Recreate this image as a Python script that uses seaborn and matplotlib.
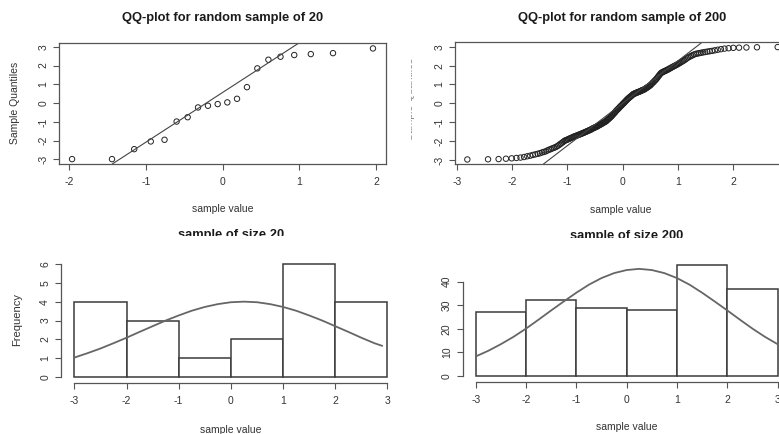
import numpy as np
import pandas as pd
import seaborn as sns
import matplotlib.pyplot as plt
from matplotlib.transforms import Bbox, TransformedBbox
from statistics import NormalDist

# sorted sample values
sample_20 = [-2.98, -2.98, -2.45, -2.04, -1.95, -0.98, -0.75, -0.23, -0.14, -0.05,
             0.04, 0.23, 0.85, 1.85, 2.31, 2.47, 2.56, 2.61, 2.66, 2.91]

sample_200 = [
    -2.97, -2.96, -2.95, -2.93, -2.91, -2.89, -2.87, -2.84, -2.80, -2.77,
    -2.73, -2.70, -2.67, -2.64, -2.60, -2.57, -2.54, -2.49, -2.45, -2.42,
    -2.38, -2.35, -2.32, -2.28, -2.23, -2.18, -2.13, -2.08, -2.03, -1.98,
    -1.95, -1.93, -1.90, -1.87, -1.85, -1.82, -1.80, -1.77, -1.75, -1.73,
    -1.71, -1.69, -1.67, -1.65, -1.63, -1.61, -1.59, -1.57, -1.55, -1.53,
    -1.51, -1.49, -1.47, -1.45, -1.43, -1.41, -1.39, -1.37, -1.34, -1.32,
    -1.30, -1.28, -1.26, -1.24, -1.22, -1.20, -1.17, -1.15, -1.13, -1.11,
    -1.08, -1.06, -1.04, -1.01, -0.99, -0.97, -0.95, -0.91, -0.88, -0.84,
    -0.81, -0.77, -0.74, -0.70, -0.67, -0.62, -0.58, -0.54, -0.50, -0.46,
    -0.41, -0.37, -0.33, -0.30, -0.26, -0.22, -0.18, -0.14, -0.11, -0.07,
    -0.03, 0.01, 0.04, 0.08, 0.12, 0.16, 0.20, 0.23, 0.27, 0.30,
    0.33, 0.36, 0.39, 0.42, 0.46, 0.49, 0.51, 0.52, 0.54, 0.56,
    0.57, 0.59, 0.60, 0.62, 0.63, 0.65, 0.67, 0.69, 0.70, 0.72,
    0.74, 0.76, 0.79, 0.82, 0.84, 0.87, 0.90, 0.93, 0.96, 1.00,
    1.05, 1.09, 1.13, 1.18, 1.22, 1.27, 1.32, 1.38, 1.44, 1.50,
    1.56, 1.61, 1.64, 1.66, 1.69, 1.71, 1.73, 1.76, 1.78, 1.81,
    1.84, 1.87, 1.90, 1.93, 1.96, 1.99, 2.02, 2.05, 2.09, 2.12,
    2.16, 2.20, 2.24, 2.28, 2.33, 2.38, 2.43, 2.47, 2.51, 2.55,
    2.59, 2.62, 2.64, 2.66, 2.68, 2.70, 2.72, 2.74, 2.76, 2.78,
    2.81, 2.84, 2.87, 2.90, 2.92, 2.94, 2.95, 2.96, 2.97, 2.98]

# histograms
bin_edges = [-3, -2, -1, 0, 1, 2, 3]
counts_20 = [4, 3, 1, 2, 6, 4]
counts_200 = [27, 32, 29, 28, 47, 37]

# fitted normal curves drawn over the histograms
curve_x_20 = [-3.0, -2.75, -2.5, -2.25, -2.0, -1.75, -1.5, -1.25, -1.0, -0.75, -0.5, -0.25,
              0.0, 0.25, 0.5, 0.75, 1.0, 1.25, 1.5, 1.75, 2.0, 2.25, 2.5, 2.75, 2.9]
curve_y_20 = [1.04, 1.27, 1.52, 1.80, 2.09, 2.40, 2.70, 3.00, 3.27, 3.52, 3.72, 3.87,
              3.97, 4.00, 3.97, 3.87, 3.72, 3.52, 3.27, 3.00, 2.70, 2.40, 2.09, 1.80, 1.66]
curve_x_200 = [-3.0, -2.75, -2.5, -2.25, -2.0, -1.75, -1.5, -1.25, -1.0, -0.75, -0.5, -0.25,
               0.0, 0.25, 0.5, 0.75, 1.0, 1.25, 1.5, 1.75, 2.0, 2.25, 2.5, 2.75, 3.0]
curve_y_200 = [8.3, 10.7, 13.5, 16.6, 20.1, 23.9, 27.8, 31.6, 35.3, 38.7, 41.5, 43.6,
               44.9, 45.4, 44.9, 43.6, 41.5, 38.7, 35.3, 31.6, 27.8, 23.9, 20.1, 16.6, 13.5]

W, H = 779, 434
DARK = '#333333'
AXC = '#555555'

sns.set_style('white')
plt.rcParams['font.family'] = ['Liberation Sans', 'DejaVu Sans']
plt.rcParams['axes.unicode_minus'] = False


def box(l, t, r, b):
    return [l / W, 1 - b / H, (r - l) / W, (b - t) / H]


def px(x, y):
    return x / W, 1 - y / H


def style_ticks(ax):
    ax.tick_params(axis='both', direction='out', length=4.3, width=0.8, color=AXC,
                   labelsize=7.5, labelcolor=DARK, bottom=True, left=True)
    ax.tick_params(axis='x', pad=5)
    ax.tick_params(axis='y', pad=3.5)
    for lab in ax.get_yticklabels():
        lab.set_rotation(90)
        lab.set_va('center')
    ax.set_xlabel('')
    ax.set_ylabel('')


def qq_panel(ax, sample, xlim, ylim, xticks):
    n = len(sample)
    a = 0.375 if n <= 10 else 0.5
    theo = [NormalDist().inv_cdf((i + 1 - a) / (n + 1 - 2 * a)) for i in range(n)]
    df = pd.DataFrame({'theoretical': theo, 'sample': sorted(sample)})
    sns.scatterplot(data=df, x='theoretical', y='sample', ax=ax, marker='o',
                    s=15, facecolor='none', edgecolor='#222222', linewidth=0.7)
    # qqline through the quartiles, like R does
    q1, q3 = np.percentile(sample, [25, 75])
    z = NormalDist().inv_cdf(0.75)
    slope = (q3 - q1) / (2 * z)
    icpt = q1 + z * slope
    ax.axline((0, icpt), slope=slope, color='#444444', lw=0.8)
    ax.set_xlim(*xlim)
    ax.set_ylim(*ylim)
    ax.set_xticks(xticks)
    ax.set_yticks([-3, -2, -1, 0, 1, 2, 3])
    for sp in ax.spines.values():
        sp.set_visible(True)
        sp.set_color(AXC)
        sp.set_linewidth(0.9)
    style_ticks(ax)


def hist_panel(ax, counts, cx, cy, xlim, ylim, yticks):
    centers = [(bin_edges[i] + bin_edges[i + 1]) / 2 for i in range(len(counts))]
    sns.histplot(x=centers, weights=counts, bins=bin_edges, ax=ax, color='white',
                 edgecolor='#3a3a3a', linewidth=1.1, alpha=1)
    sns.lineplot(x=cx, y=cy, ax=ax, color='#666666', lw=1.3)
    ax.set_xlim(*xlim)
    ax.set_ylim(*ylim)
    ax.set_xticks([-3, -2, -1, 0, 1, 2, 3])
    ax.set_yticks(yticks)
    ax.spines['top'].set_visible(False)
    ax.spines['right'].set_visible(False)
    for side in ('left', 'bottom'):
        ax.spines[side].set_visible(True)
        ax.spines[side].set_color(AXC)
        ax.spines[side].set_linewidth(0.9)
    ax.spines['left'].set_bounds(yticks[0], yticks[-1])
    ax.spines['bottom'].set_bounds(-3, 3)
    style_ticks(ax)


def clipped_text(fig, x, y, s, clip, **kw):
    # text cut by the edge of the original screenshot
    t = fig.text(*px(x, y), s, **kw)
    l, tp, r, b = clip
    bb = Bbox.from_extents(l / W, 1 - b / H, r / W, 1 - tp / H)
    t.set_clip_box(TransformedBbox(bb, fig.transFigure))
    t.set_clip_on(True)
    return t


fig = plt.figure(figsize=(W / 100, H / 100), dpi=100)
fig.patch.set_facecolor('white')

ax1 = fig.add_axes(box(59, 43, 386, 164))
qq_panel(ax1, sample_20, (-2.13, 2.13), (-3.24, 3.2), [-2, -1, 0, 1, 2])

ax2 = fig.add_axes(box(455, 42, 790, 164))
qq_panel(ax2, sample_200, (-3.03, 3.03), (-3.21, 3.25), [-3, -2, -1, 0, 1, 2])

ax3 = fig.add_axes(box(61, 258.4, 400.8, 382.7))
hist_panel(ax3, counts_20, curve_x_20, curve_y_20, (-3.255, 3.255), (-0.29, 6.29),
           [0, 1, 2, 3, 4, 5, 6])

ax4 = fig.add_axes(box(462.7, 260.6, 790.6, 382))
hist_panel(ax4, counts_200, curve_x_200, curve_y_200, (-3.26, 3.26), (-2.54, 48.9),
           [0, 10, 20, 30, 40])

title_kw = dict(ha='center', fontsize=9.3, fontweight='bold', color='#1a1a1a')
lab_kw = dict(ha='center', va='center', fontsize=7.5, color=DARK)

fig.text(*px(222.5, 18.5), 'QQ-plot for random sample of 20', va='center', **title_kw)
fig.text(*px(622.5, 18.5), 'QQ-plot for random sample of 200', va='center', **title_kw)
fig.text(*px(222.5, 209), 'sample value', **lab_kw)
fig.text(*px(621, 210), 'sample value', **lab_kw)
fig.text(*px(15, 103), 'Sample Quantiles', rotation=90, **lab_kw)
clipped_text(fig, 410.5, 99, 'Sample Quantiles', (411, 0, 440, 434), rotation=90,
             ha='center', va='center', fontsize=7.5, color='#888888')

clipped_text(fig, 231, 238, 'sample of size 20', (0, 0, 779, 236), va='baseline', **title_kw)
clipped_text(fig, 627, 239.5, 'sample of size 200', (0, 0, 779, 237.5), va='baseline', **title_kw)
fig.text(*px(231, 430), 'sample value', **lab_kw)
fig.text(*px(627, 426.7), 'sample value', **lab_kw)
fig.text(*px(17, 320), 'Frequency', rotation=90, ha='center', va='center',
         fontsize=8, color=DARK)

fig.savefig('out.png', dpi=100)
